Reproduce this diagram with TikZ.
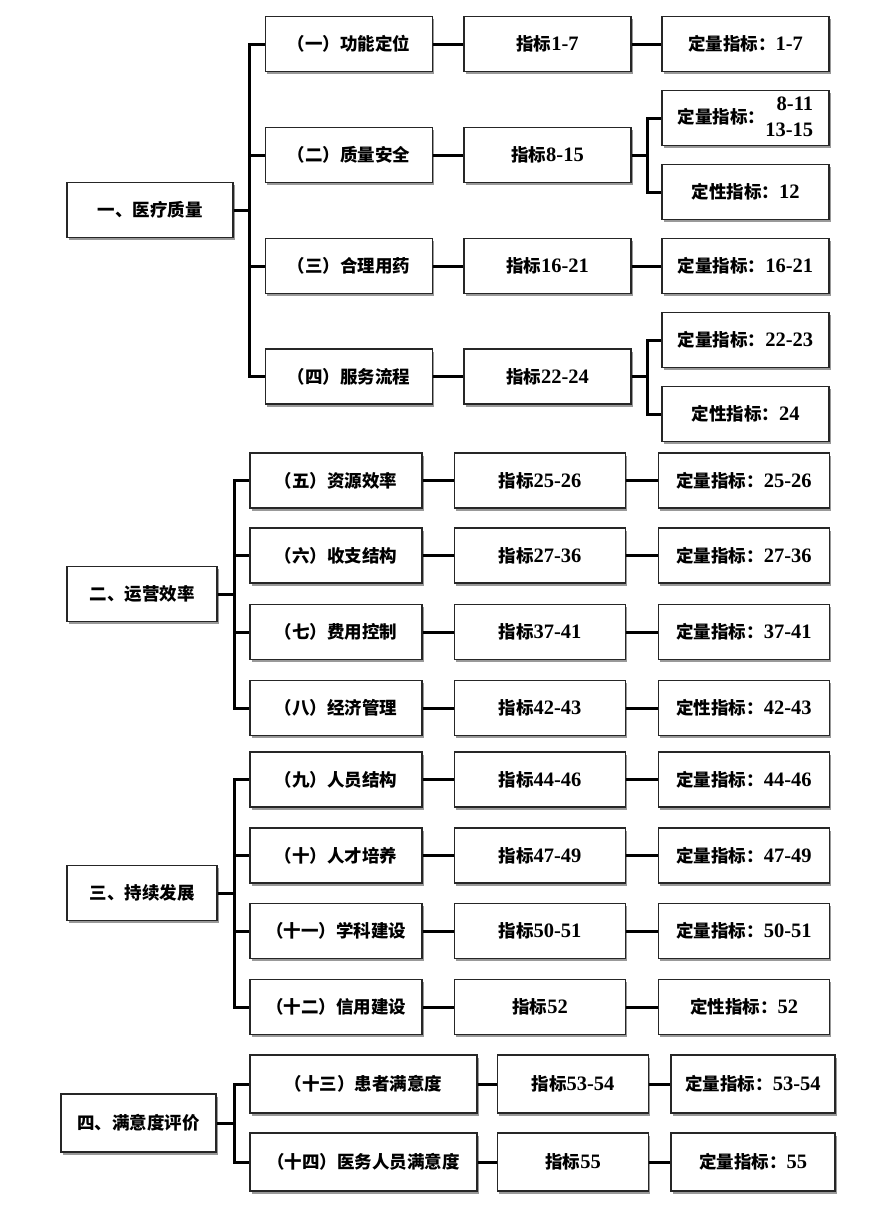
\documentclass[tikz,border=0pt]{standalone}
\usepackage{fontspec}
\setmainfont{Liberation Serif}
\newfontfamily\cjk{Noto Sans CJK SC}
\usetikzlibrary{shadows}
\tikzset{bx/.style={draw=black!85,line width=1.3pt,fill=white,minimum height=55pt,inner sep=1pt,
    drop shadow={shadow xshift=1.5pt,shadow yshift=-2.5pt,fill=black!40,opacity=1},
    font=\bfseries\fontsize{17.5}{21}\selectfont},
  ln/.style={line width=3pt}}
\newcommand{\nd}[5]{\node[bx,minimum width=#4pt] (#1) at (#2,#3) {#5};}
\newcommand{\hl}[2]{\draw[ln] (#1.east) -- (#2.west);}
\newcommand{\tr}[2]{\draw[ln] (#1) |- (#2.west);}
\newcommand{\nm}[1]{{\fontsize{20.5}{25}\selectfont #1}}
\newcommand{\zb}[1]{{\cjk 指标}\nm{#1}}
\newcommand{\dl}[1]{{\cjk 定量指标：}\nm{#1}}
\newcommand{\dx}[1]{{\cjk 定性指标：}\nm{#1}}
\begin{document}
\begin{tikzpicture}[x=1pt,y=-1pt]
  \useasboundingbox (0,0) rectangle (873,1218);
  \nd{r1}{150}{210}{166}{\cjk 一、医疗质量}
  \nd{a1}{349}{44}{167}{\cjk （一）功能定位} \nd{b1}{547.5}{44}{167}{\zb{1-7}} \nd{c1}{745.5}{44}{167}{\dl{1-7}}
  \nd{a2}{349}{155}{167}{\cjk （二）质量安全} \nd{b2}{547.5}{155}{167}{\zb{8-15}}
  \nd{c2a}{745.5}{118}{167}{{\cjk 定量指标：}\nm{\begin{tabular}{@{}r@{}}8-11\\[1pt]13-15\end{tabular}}}
  \nd{c2b}{745.5}{192}{167}{\dx{12}}
  \nd{a3}{349}{266}{167}{\cjk （三）合理用药} \nd{b3}{547.5}{266}{167}{\zb{16-21}} \nd{c3}{745.5}{266}{167}{\dl{16-21}}
  \nd{a4}{349}{376.5}{167}{\cjk （四）服务流程} \nd{b4}{547.5}{376.5}{167}{\zb{22-24}}
  \nd{c4a}{745.5}{340}{167}{\dl{22-23}} \nd{c4b}{745.5}{414}{167}{\dx{24}}
  \draw[ln] (r1.east) -- ++(16,0) coordinate (t1);
  \foreach \n in {a1,a2,a3,a4} {\tr{t1}{\n}}
  \foreach \n/\m in {a1/b1,b1/c1,a2/b2,a3/b3,b3/c3,a4/b4} {\hl{\n}{\m}}
  \draw[ln] (b2.east) -- ++(16,0) coordinate (s2); \tr{s2}{c2a} \tr{s2}{c2b}
  \draw[ln] (b4.east) -- ++(16,0) coordinate (s4); \tr{s4}{c4a} \tr{s4}{c4b}

  \nd{r2}{142}{594}{150}{\cjk 二、运营效率}
  \nd{a5}{336}{480.5}{172}{\cjk （五）资源效率} \nd{b5}{540}{480.5}{171}{\zb{25-26}} \nd{c5}{744}{480.5}{171}{\dl{25-26}}
  \nd{a6}{336}{555.5}{172}{\cjk （六）收支结构} \nd{b6}{540}{555.5}{171}{\zb{27-36}} \nd{c6}{744}{555.5}{171}{\dl{27-36}}
  \nd{a7}{336}{632}{172}{\cjk （七）费用控制} \nd{b7}{540}{632}{171}{\zb{37-41}} \nd{c7}{744}{632}{171}{\dl{37-41}}
  \nd{a8}{336}{708}{172}{\cjk （八）经济管理} \nd{b8}{540}{708}{171}{\zb{42-43}} \nd{c8}{744}{708}{171}{\dx{42-43}}
  \draw[ln] (r2.east) -- ++(16.5,0) coordinate (t2);
  \foreach \i in {5,...,8} {\tr{t2}{a\i} \hl{a\i}{b\i} \hl{b\i}{c\i}}

  \nd{r3}{142}{893}{150}{\cjk 三、持续发展}
  \nd{a9}{336}{779.5}{172}{\cjk （九）人员结构} \nd{b9}{540}{779.5}{171}{\zb{44-46}} \nd{c9}{744}{779.5}{171}{\dl{44-46}}
  \nd{a10}{336}{855.5}{172}{\cjk （十）人才培养} \nd{b10}{540}{855.5}{171}{\zb{47-49}} \nd{c10}{744}{855.5}{171}{\dl{47-49}}
  \nd{a11}{336}{931}{172}{\cjk （十一）学科建设} \nd{b11}{540}{931}{171}{\zb{50-51}} \nd{c11}{744}{931}{171}{\dl{50-51}}
  \nd{a12}{336}{1007}{172}{\cjk （十二）信用建设} \nd{b12}{540}{1007}{171}{\zb{52}} \nd{c12}{744}{1007}{171}{\dx{52}}
  \draw[ln] (r3.east) -- ++(16.5,0) coordinate (t3);
  \foreach \i in {9,...,12} {\tr{t3}{a\i} \hl{a\i}{b\i} \hl{b\i}{c\i}}

  \begin{scope}[bx/.append style={minimum height=58pt}]
    \nd{r4}{138.5}{1123}{155}{\cjk 四、满意度评价}
    \nd{a13}{363.5}{1084}{227}{\cjk （十三）患者满意度} \nd{b13}{573}{1084}{151}{\zb{53-54}} \nd{c13}{753}{1084}{164}{\dl{53-54}}
    \nd{a14}{363.5}{1162}{227}{\cjk （十四）医务人员满意度} \nd{b14}{573}{1162}{151}{\zb{55}} \nd{c14}{753}{1162}{164}{\dl{55}}
  \end{scope}
  \draw[ln] (r4.east) -- ++(18,0) coordinate (t4);
  \foreach \i in {13,14} {\tr{t4}{a\i} \hl{a\i}{b\i} \hl{b\i}{c\i}}
\end{tikzpicture}
\end{document}
